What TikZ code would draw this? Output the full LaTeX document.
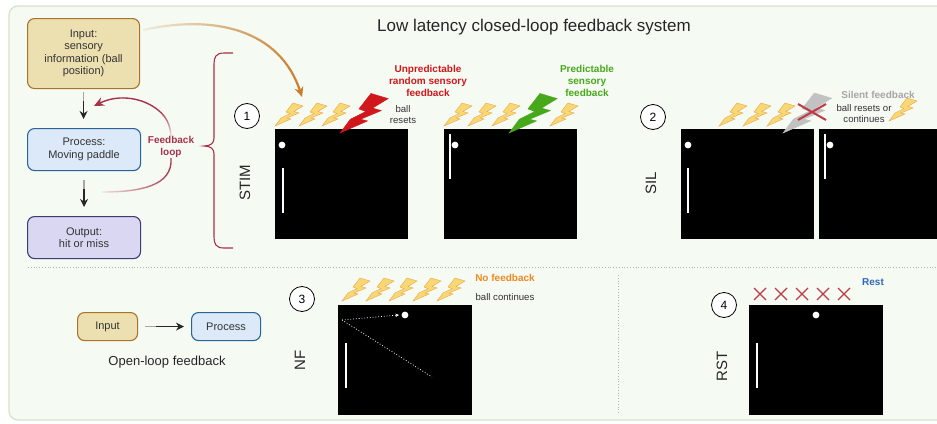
\documentclass[tikz,border=0pt]{standalone}
\usepackage{fontspec}
\setmainfont{Liberation Sans}
\usetikzlibrary{arrows.meta,fadings}
\definecolor{panelfill}{HTML}{F5FAF3}
\definecolor{panelline}{HTML}{D8E2C8}
\definecolor{loopred}{HTML}{A8324A}
\definecolor{arroworange}{HTML}{C87C2A}
\definecolor{crossred}{HTML}{BE3B45}
\definecolor{inputfill}{HTML}{EDE0B0}
\definecolor{inputline}{HTML}{A87428}
\definecolor{processfill}{HTML}{DCE9F8}
\definecolor{processline}{HTML}{2A6496}
\definecolor{outputfill}{HTML}{DAD7F2}
\definecolor{outputline}{HTML}{3E3C78}
\definecolor{boltfill}{HTML}{F8D775}
\definecolor{boltline}{HTML}{EDA545}
\definecolor{boltred}{HTML}{D0181C}
\definecolor{boltgreen}{HTML}{48A81C}
\definecolor{boltgrey}{HTML}{C2C2C2}
\definecolor{textorange}{HTML}{EE8A22}
\definecolor{textblue}{HTML}{2F66B8}
\tikzfading[name=fadeleft,left color=transparent!90,middle color=transparent!10,right color=transparent!0]
\tikzfading[name=fadebottom,top color=transparent!0,bottom color=transparent!90]
\tikzset{
  sizeeleven/.style={font=\fontsize{11}{12.4}\selectfont,text=black!80},
  flowbox/.style={draw,rounded corners=7pt,line width=1.1pt,align=center,sizeeleven,anchor=north west,inner sep=0pt},
  inputbox/.style={flowbox,fill=inputfill,draw=inputline},
  processbox/.style={flowbox,fill=processfill,draw=processline},
  smalltext/.style={font=\fontsize{9.6}{11}\selectfont,text=black!80,align=center,inner sep=0pt},
  boldtext/.style={font=\fontsize{10}{12.4}\selectfont\bfseries,align=center,inner sep=0pt},
  sidetext/.style={font=\fontsize{15}{15}\selectfont,text=black!85,rotate=90,inner sep=0pt},
  numcircle/.style={draw,circle,line width=0.8pt,minimum size=25pt,inner sep=0pt,fill=white,font=\fontsize{12}{12}\selectfont},
  blackarrow/.style={-{Stealth[length=8pt,width=8pt]},line width=1.3pt,black!85},
  paleline/.style={line width=1.3pt,black!35},
  redarrow/.style={line width=1.4pt,loopred},
  crossmark/.style={crossred,line width=1.3pt},
  smallbolt/.style={draw=boltline,fill=boltfill}
}
% lightning bolt, tip at (#1,#2), scale #3, colours #4
\newcommand{\bolt}[4]{\filldraw[#4,line width=0.4pt,shift={(#1,#2)},scale=#3] (0,0) -- (16,-7) -- (12,-8) -- (24,-13) -- (19,-14.5) -- (28,-20) -- (18,-23) -- (11,-14) -- (15,-12.5) -- (6,-8) -- cycle;}
% game screen: corner (#1,#2), right edge #3, ball (#4,#5), paddle x #6 from y #7
\newcommand{\screen}[7]{
\fill[black] (#1,#2) rectangle (#3,#2+110);
\draw[white,line width=1.8pt] (#6,#7) -- (#6,#7+45);
\fill[white] (#4,#5) circle (3.4pt);
}
\begin{document}
\begin{tikzpicture}[x=1pt,y=-1pt]
\useasboundingbox (0,0) rectangle (937,423);
\clip (0,0) rectangle (937,423);
\fill[white] (0,0) rectangle (937,423);
\filldraw[fill=panelfill,draw=panelline,line width=1.2pt,rounded corners=9pt] (9,6) rectangle (960,420);
\node[font=\fontsize{17}{19}\selectfont,text=black!85,inner sep=0pt] (title) at (534,27) {Low latency closed-loop feedback system};

% closed loop flow
\node[inputbox,minimum width=112pt,minimum height=70pt] (input) at (27,18) {Input:\\sensory\\information (ball\\position)};
\node[processbox,minimum width=113pt,minimum height=42pt] (process) at (27,128) {Process:\\Moving paddle};
\node[flowbox,fill=outputfill,draw=outputline,minimum width=113pt,minimum height=42pt] (output) at (27,216) {Output:\\hit or miss};
\draw[paleline,shorten <=3pt,shorten >=24pt] (input.south) -- (input.south |- process.north);
\draw[blackarrow,shorten <=12pt,shorten >=9pt] (input.south) -- (input.south |- process.north);
\draw[paleline,shorten <=9pt,shorten >=24pt] (process.south) -- (process.south |- output.north);
\draw[blackarrow,shorten <=18pt,shorten >=9pt] (process.south) -- (process.south |- output.north);

\node[boldtext,text=loopred] (feedback) at (171,147) {Feedback\\loop};
\coordinate (looptop) at (94,106);
\coordinate (loopmid) at (159.3,111.1);
\coordinate (loopend) at (102,192);
\draw[redarrow,path fading=fadebottom] (feedback.north) .. controls (170.2,123.9) and (165.7,116.7) .. (loopmid);
\draw[redarrow,-{Stealth[length=10pt,width=9pt]}] (loopmid) .. controls (144.4,98) and (119.2,93.4) .. (looptop);
\draw[redarrow,path fading=fadeleft] (loopend) .. controls (140,192) and (173,186) .. (feedback.south);

% brace
\draw[loopred,line width=1.1pt] (233,53) -- (224,53) .. controls (216,53) and (214,57) .. (214,64) -- (214,138) .. controls (214,143) and (211,146) .. (204,146) .. controls (211,146) and (214,149) .. (214,154) -- (214,237) .. controls (214,244) and (216,248) .. (224,248) -- (233,248);

% condition 1
\node[numcircle] (numone) at (247,116) {1};
\node[sidetext] (stim) at (245,183) {STIM};
\screen{275}{129}{408}{282}{145}{283}{168}
\screen{444}{129}{577}{455}{145}{450}{134}
\foreach \xtip in {275,299,322,444,468,492,550}
  \bolt{\xtip}{126}{1}{smallbolt};
\bolt{340}{133}{1.72}{draw=boltred,fill=boltred}
\bolt{509}{133}{1.72}{draw=boltgreen,fill=boltgreen}
\node[boldtext,text=boltred] (unpred) at (428,81) {Unpredictable\\random sensory\\feedback};
\node[boldtext,text=boltgreen] (pred) at (587,81) {Predictable\\sensory\\feedback};
\node[smalltext] (ballone) at (403,114.5) {ball\\resets};

% condition 2
\node[numcircle] (numtwo) at (653,117) {2};
\node[sidetext] (sil) at (651,183) {SIL};
\screen{681}{129}{814}{688}{145}{688}{168}
\screen{819}{129}{960}{830}{145}{825}{134}
\foreach \xtip in {719,743,767}
  \bolt{\xtip}{126}{1}{smallbolt};
\bolt{889}{121}{1}{smallbolt}
\bolt{783}{133}{1.74}{draw=boltgrey,fill=boltgrey}
\draw[crossred,line width=2pt] (798,104) -- (826,120) (798,120) -- (826,104);
\node[boldtext,text=black!35] (silent) at (878,95) {Silent feedback};
\node[smalltext] (balltwo) at (864,113.5) {ball resets or\\continues};

% divider
\draw[black!30,dotted,line width=0.8pt] (28,267) -- (937,267);
\draw[black!30,dotted,line width=0.8pt] (618,275) -- (618,414);

% open loop
\node[inputbox,minimum width=60pt,minimum height=28pt] (inputb) at (77,312) {Input};
\node[processbox,minimum width=69pt,minimum height=28pt] (processb) at (191,312) {Process};
\draw[paleline,shorten <=7pt,shorten >=30pt] (inputb) -- (processb);
\draw[blackarrow,shorten <=18pt,shorten >=7pt] (inputb) -- (processb);
\node[font=\fontsize{13}{14}\selectfont,text=black!85,inner sep=0pt] (openloop) at (167,362) {Open-loop feedback};

% condition 3
\node[numcircle] (numthree) at (302,299) {3};
\node[sidetext] (nf) at (300,360) {NF};
\screen{338}{305}{472}{405}{315}{346}{343}
\foreach \xtip in {342,366,389,413,437}
  \bolt{\xtip}{301}{1}{smallbolt};
\coordinate (bounce) at (342,320);
\coordinate (ballnf) at (399,315);
\coordinate (trail) at (432,377);
\draw[white,dotted,line width=0.8pt,-{Stealth[length=3.5pt,width=3.5pt]}] (bounce) -- (ballnf);
\draw[white,dotted,line width=0.8pt] (bounce) -- (trail);
\node[boldtext,text=textorange] (nofeed) at (505,278) {No feedback};
\node[smalltext] (ballthree) at (505,297) {ball continues};

% condition 4
\node[numcircle] (numfour) at (724,305) {4};
\node[sidetext] (rst) at (722,366) {RST};
\screen{749}{305}{883}{816}{315}{757}{343}
\foreach \xcross in {760,781,802,823,844}
  \draw[crossmark] (\xcross-6,288) -- (\xcross+6,300) (\xcross-6,300) -- (\xcross+6,288);
\node[boldtext,text=textblue] (rest) at (873,282) {Rest};

% input to stimulus
\coordinate (stimin) at (143,30);
\coordinate (stimend) at (302,97);
\draw[arroworange,line width=2.2pt,path fading=fadeleft,-{Stealth[length=10pt,width=9pt]}] (stimin) .. controls (215,14) and (280,30) .. (stimend);
\end{tikzpicture}
\end{document}
